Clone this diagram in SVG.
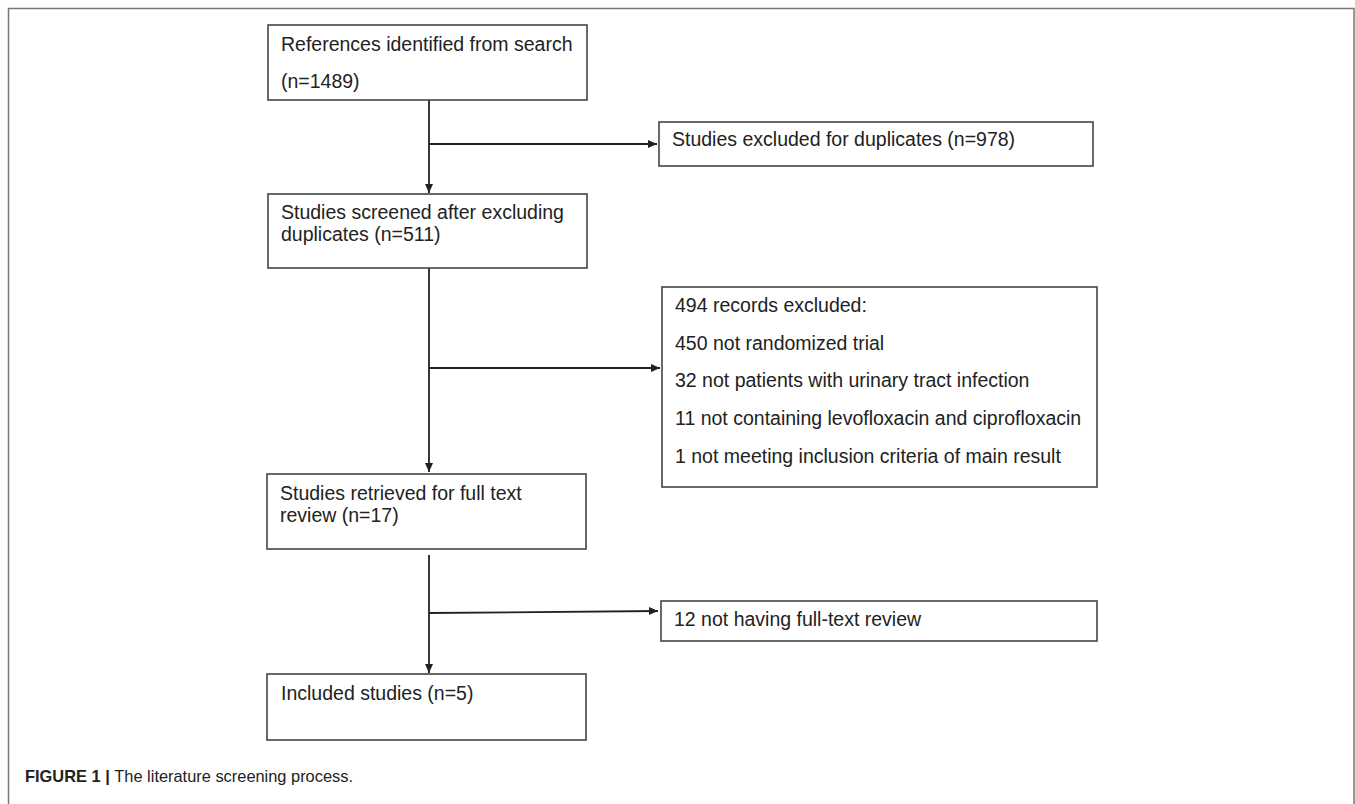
<svg xmlns="http://www.w3.org/2000/svg" width="1355" height="804" viewBox="0 0 1355 804">
<defs>
<style>
.box{fill:#fff;stroke:#444;stroke-width:1.6}
.t{font-family:"Liberation Sans",Arial,sans-serif;font-size:19.5px;fill:#222}
.cap{font-family:"Liberation Sans",Arial,sans-serif;font-size:16.4px;fill:#222}
.ln{fill:none;stroke:#222;stroke-width:1.8}
</style>
<marker id="ah" markerWidth="10" markerHeight="10" refX="9" refY="5" orient="auto" markerUnits="userSpaceOnUse">
<path d="M0,1 L9,5 L0,9 Z" fill="#222"/>
</marker>
</defs>
<rect x="0" y="0" width="1355" height="804" fill="#fff"/>
<path d="M8.5,804 V8.5 H1354 V804" fill="none" stroke="#777" stroke-width="1.5"/>
<g id="connectors">
<line class="ln" x1="429" y1="100" x2="429" y2="193" marker-end="url(#ah)"/>
<line class="ln" x1="429" y1="144" x2="657" y2="144" marker-end="url(#ah)"/>
<line class="ln" x1="429" y1="268" x2="429" y2="472" marker-end="url(#ah)"/>
<line class="ln" x1="429" y1="368" x2="660" y2="368" marker-end="url(#ah)"/>
<line class="ln" x1="429" y1="555" x2="429" y2="673" marker-end="url(#ah)"/>
<line class="ln" x1="429" y1="613" x2="658" y2="611" marker-end="url(#ah)"/>
</g>
<g id="n1"><rect class="box" x="268" y="25" width="319" height="75"/>
<text class="t" x="281" y="51">References identified from search</text>
<text class="t" x="281" y="88">(n=1489)</text></g>
<g id="n2"><rect class="box" x="659" y="122" width="434" height="44"/>
<text class="t" x="672" y="146">Studies excluded for duplicates (n=978)</text></g>
<g id="n3"><rect class="box" x="268" y="194" width="319" height="74"/>
<text class="t" x="281" y="219">Studies screened after excluding</text>
<text class="t" x="281" y="241">duplicates (n=511)</text></g>
<g id="n4"><rect class="box" x="662" y="287" width="435" height="200"/>
<text class="t" x="675" y="312">494 records excluded:</text>
<text class="t" x="675" y="350">450 not randomized trial</text>
<text class="t" x="675" y="387">32 not patients with urinary tract infection</text>
<text class="t" x="675" y="425">11 not containing levofloxacin and ciprofloxacin</text>
<text class="t" x="675" y="463">1 not meeting inclusion criteria of main result</text></g>
<g id="n5"><rect class="box" x="267" y="474" width="319" height="75"/>
<text class="t" x="280" y="500">Studies retrieved for full text</text>
<text class="t" x="280" y="522">review (n=17)</text></g>
<g id="n6"><rect class="box" x="661" y="601" width="436" height="40"/>
<text class="t" x="674" y="626">12 not having full-text review</text></g>
<g id="n7"><rect class="box" x="267" y="674" width="319" height="66"/>
<text class="t" x="281" y="700">Included studies (n=5)</text></g>
<text class="cap" x="25" y="782"><tspan font-weight="bold">FIGURE 1 | </tspan>The literature screening process.</text>
</svg>
